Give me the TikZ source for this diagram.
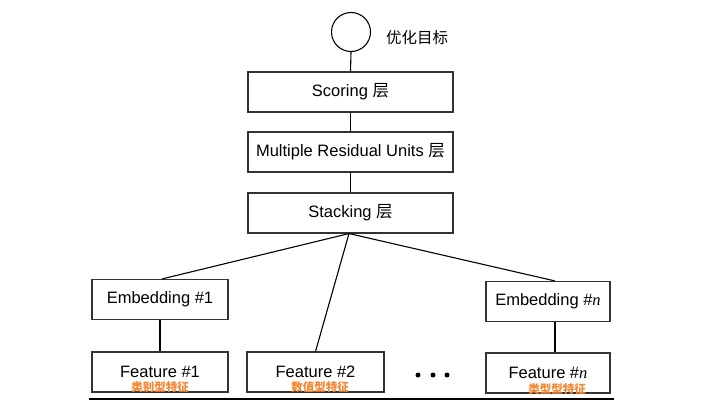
\documentclass[tikz,border=0pt]{standalone}
\usepackage{fontspec}
\setmainfont{Liberation Sans}
\newfontfamily\cjk{Noto Sans CJK SC}
\newfontfamily\serifit{Liberation Serif}
\newcommand{\ital}[1]{{\serifit\itshape #1}}
\definecolor{boxline}{HTML}{333333}
\definecolor{tagorange}{HTML}{F5852F}
\begin{document}
\begin{tikzpicture}[x=1pt,y=-1pt,
  layerbox/.style={draw=boxline,line width=1.1pt,rectangle,inner sep=0pt,
    minimum width=205pt,minimum height=40pt,font=\fontsize{16.5}{19}\selectfont},
  featbox/.style={draw=boxline,line width=1.1pt,rectangle,inner sep=0pt,
    minimum height=40pt,font=\fontsize{16.5}{19}\selectfont},
  tag/.style={text=tagorange,font=\fontsize{11.5}{12}\selectfont\cjk\bfseries,inner sep=0pt},
  conn/.style={draw=black,line width=1.1pt}]
\useasboundingbox (0,0) rectangle (717,415);
\fill[white] (0,0) rectangle (717,415);

\node[draw=black,line width=1.1pt,circle,minimum size=39pt,inner sep=0pt] (goal) at (351,32) {};
\node[font=\fontsize{15.5}{18}\selectfont\cjk,anchor=west,inner sep=0pt] (goallabel) at (386,38) {优化目标};

\node[layerbox] (score) at (350.5,92) {Scoring {\cjk 层}};
\node[layerbox] (mru) at (350.5,152) {Multiple Residual Units {\cjk 层}};
\node[layerbox] (stack) at (350.5,213) {Stacking {\cjk 层}};

\node[featbox,minimum width=136pt] (emb1) at (160,299.5) {Embedding \#1};
\node[featbox,minimum width=124pt] (embn) at (548,301.5) {Embedding \#\ital{n}};

\node[featbox,minimum width=136pt] (f1) at (160,372) {Feature \#1};
\node[featbox,minimum width=137pt] (f2) at (315.5,372) {Feature \#2};
\node[featbox,minimum width=124pt] (fn) at (548,373) {Feature \#\ital{n}};

\node[tag] (t1) at (160,387) {类别型特征};
\node[tag] (t2) at (320,387) {数值型特征};
\node[tag] (tn) at (557,389) {类型型特征};

\node[circle,fill=black,inner sep=0pt,minimum size=5pt] (d1) at (418,375) {};
\node[circle,fill=black,inner sep=0pt,minimum size=5pt] (d2) at (433,375) {};
\node[circle,fill=black,inner sep=0pt,minimum size=5pt] (d3) at (447,375) {};

\draw[conn] (goal.south) -- (score.north);
\draw[conn] (score.south) -- (mru.north);
\draw[conn] (mru.south) -- (stack.north);
\draw[conn] ([xshift=-1.5pt]stack.south) -- ([xshift=2pt]emb1.north);
\draw[conn] ([xshift=-1.5pt]stack.south) -- (f2.north);
\draw[conn] ([xshift=-1.5pt]stack.south) -- ([xshift=7pt]embn.north);
\draw[conn] (emb1.south) -- (f1.north);
\draw[conn] ([xshift=7pt]embn.south) -- ([xshift=7pt]fn.north);

\coordinate (bl) at (89,399);
\coordinate (br) at (614,399);
\draw[line width=1.3pt] (bl) -- (br);
\end{tikzpicture}
\end{document}
